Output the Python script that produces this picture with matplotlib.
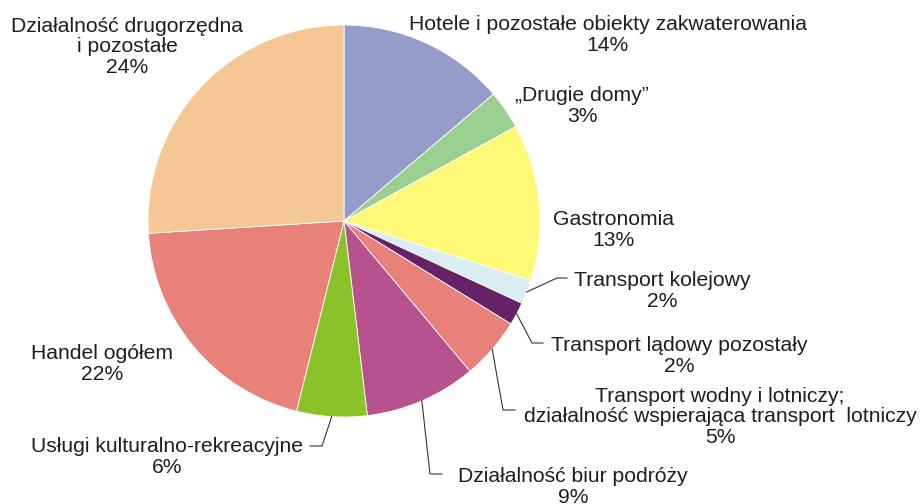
import matplotlib.pyplot as plt
import numpy as np

categories = ['Hotele i pozostałe obiekty zakwaterowania', '„Drugie domy”', 'Gastronomia',
              'Transport kolejowy', 'Transport lądowy pozostały',
              'Transport wodny i lotniczy;\ndziałalność wspierająca transport  lotniczy',
              'Działalność biur podróży', 'Usługi kulturalno-rekreacyjne', 'Handel ogółem',
              'Działalność drugorzędna\ni pozostałe']
shares = [13.8, 3.2, 12.9, 2.0, 1.9, 5.1, 9.2, 5.8, 20.1, 26.0]
pct_labels = ['14%', '3%', '13%', '2%', '2%', '5%', '9%', '6%', '22%', '24%']
colors = ['#959CC9', '#9BCF91', '#FFF978', '#DAEDF0', '#662266',
          '#E8817A', '#B7528F', '#8BC22A', '#E8817A', '#F4C794']

W, H = 921, 504
fig = plt.figure(figsize=(W / 100, H / 100), dpi=100)
ax = fig.add_axes([0, 0, 1, 1])

cx, cy, r = 344, H - 221, 196
wedges, _ = ax.pie(shares, colors=colors, startangle=90, counterclock=False,
                   center=(cx, cy), radius=r,
                   wedgeprops=dict(edgecolor='white', linewidth=0.6))
ax.set_xlim(0, W)
ax.set_ylim(0, H)
ax.set_aspect('equal')
ax.axis('off')

txt = '#1e1e1e'
font = dict(family=['Liberation Sans', 'DejaVu Sans'], fontsize=15.2, color=txt,
            ha='center', va='center', linespacing=1.12)

# pozycje etykiet (piksele: x, y od góry)
label_pos = [(608, 35), (582, 106), (613, 230), (662, 291), (679, 356),
             (720, 417), (573, 487), (167, 457), (102, 364), (127, 47)]
for name, pct, (lx, ly) in zip(categories, pct_labels, label_pos):
    ax.text(lx, H - ly, name + '\n' + pct, **font)

# linie odniesienia: (indeks klina, punkt załamania, koniec poziomy)
leaders = [(3, (557, 278), 567), (4, (532, 343), 543), (5, (503, 410), 515),
           (6, (430, 474), 442), (7, (322, 446), 310)]
for i, (ex, ey), endx in leaders:
    w = wedges[i]
    mid = np.deg2rad((w.theta1 + w.theta2) / 2)
    sx, sy = cx + r * np.cos(mid), cy + r * np.sin(mid)
    ax.plot([sx, ex, endx], [sy, H - ey, H - ey], color='#333333', lw=0.8)

fig.savefig('out.png', dpi=100)
